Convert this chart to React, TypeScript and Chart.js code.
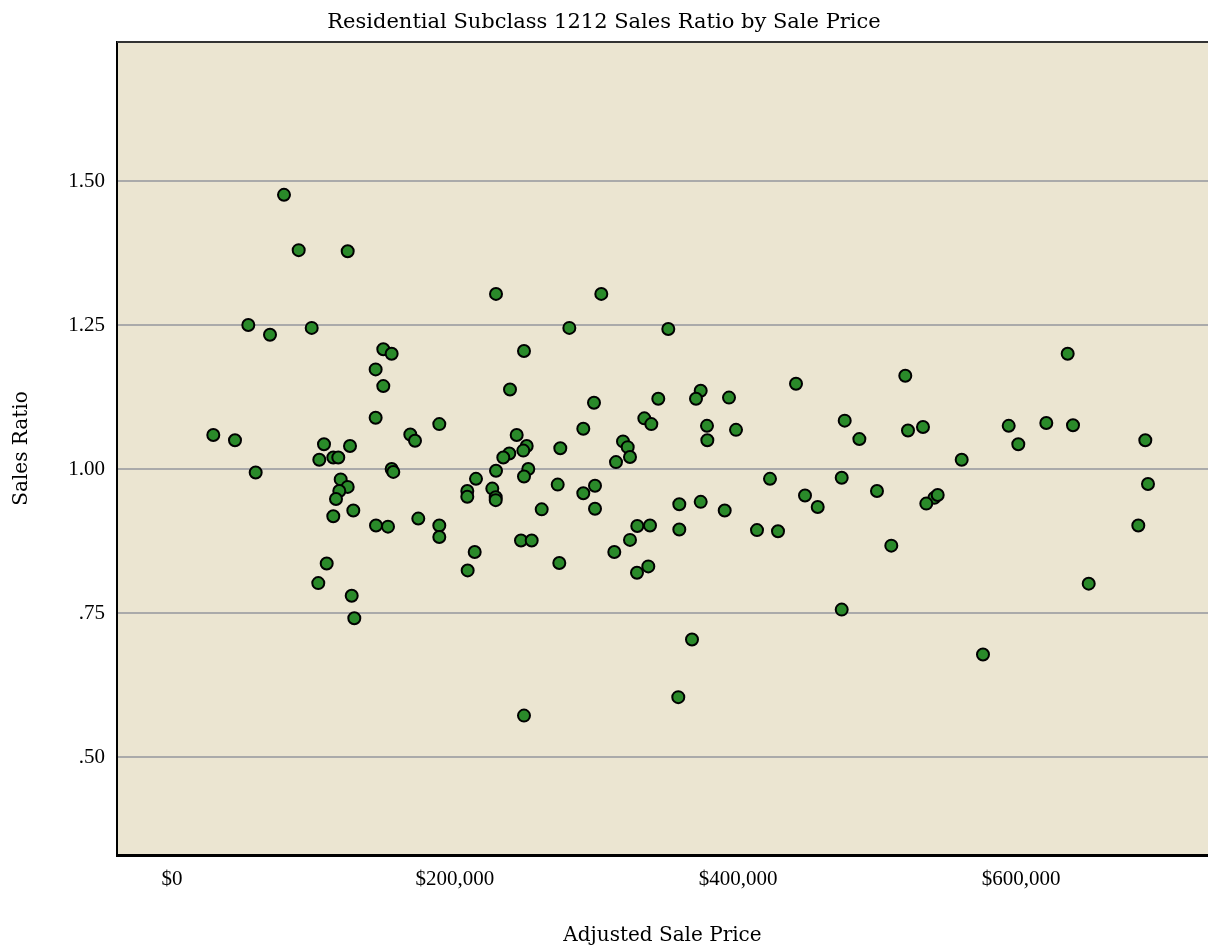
import React, { useEffect, useRef } from "react";
import { Chart, registerables } from "chart.js";

Chart.register(...registerables);

const TITLE = "Residential Subclass 1212 Sales Ratio by Sale Price";
const X_TITLE = "Adjusted Sale Price";
const Y_TITLE = "Sales Ratio";

const X_MIN = -38869;
const X_MAX = 732155;
const Y_MIN = 0.33;
const Y_MAX = 1.7413;
const X_TICKS: number[] = [0, 200000, 400000, 600000];
const Y_TICKS: number[] = [0.5, 0.75, 1.0, 1.25, 1.5];

// Adjusted sale price ($)
const salePrices: number[] = [
  79150, 89540, 124170, 53930, 69260, 98730, 149330, 155230, 143920, 149330,
  143920, 29190, 44520, 59140, 107420, 125800, 104100, 113990, 117520, 155230,
  156400, 119220, 124170, 118230, 115900, 128130, 113990, 144170, 152650, 109330,
  103380, 127000, 128840, 228980, 303390, 280800, 350740, 248760, 238870, 298230,
  343670, 373640, 370320, 393640, 440990, 168410, 171730, 188910, 290670, 333790,
  338740, 378090, 398590, 378330, 243600, 250670, 248270, 238370, 234130, 274420,
  318730, 322050, 323670, 313780, 228980, 251800, 248760, 214840, 208690, 208690,
  226360, 228770, 228770, 272580, 298940, 290670, 261270, 298940, 358520, 373640,
  390600, 422610, 447350, 174060, 188910, 188910, 328830, 337810, 358520, 413430,
  428270, 323670, 246640, 254200, 213920, 312580, 208950, 273710, 328620, 336610,
  632990, 518230, 475410, 485770, 520140, 530740, 558090, 591310, 598090, 617880,
  636750, 687850, 689750, 682900, 647850, 473290, 456330, 498230, 538730, 541130,
  533070, 508340, 367490, 357800, 248760, 473290, 573140,
];

// Sales ratio
const salesRatios: number[] = [
  1.476, 1.38, 1.378, 1.25, 1.233, 1.245, 1.208, 1.2, 1.173, 1.144,
  1.089, 1.059, 1.05, 0.994, 1.043, 1.04, 1.016, 1.02, 1.02, 1.0,
  0.995, 0.982, 0.969, 0.962, 0.948, 0.928, 0.918, 0.902, 0.9, 0.836,
  0.802, 0.78, 0.741, 1.304, 1.304, 1.245, 1.243, 1.205, 1.138, 1.115,
  1.122, 1.136, 1.122, 1.124, 1.148, 1.06, 1.049, 1.078, 1.07, 1.088,
  1.078, 1.075, 1.068, 1.05, 1.059, 1.04, 1.032, 1.027, 1.02, 1.036,
  1.048, 1.038, 1.021, 1.012, 0.997, 1.0, 0.987, 0.983, 0.962, 0.952,
  0.966, 0.951, 0.946, 0.973, 0.971, 0.958, 0.93, 0.931, 0.939, 0.943,
  0.928, 0.983, 0.954, 0.914, 0.902, 0.882, 0.901, 0.902, 0.895, 0.894,
  0.892, 0.877, 0.876, 0.876, 0.856, 0.856, 0.824, 0.837, 0.82, 0.831,
  1.2, 1.162, 1.084, 1.052, 1.067, 1.073, 1.016, 1.075, 1.043, 1.08,
  1.076, 1.05, 0.974, 0.902, 0.801, 0.985, 0.934, 0.962, 0.95, 0.955,
  0.94, 0.867, 0.704, 0.604, 0.572, 0.756, 0.678,
];

const PLOT_BG = "#ebe5d1";
const POINT_FILL = "#2a8a2a";

const plotDecor = {
  id: "plotDecor",
  beforeDraw(chart: any) {
    const { ctx, chartArea } = chart;
    ctx.save();
    ctx.fillStyle = PLOT_BG;
    ctx.fillRect(chartArea.left, chartArea.top, chartArea.right - chartArea.left, chartArea.bottom - chartArea.top);
    ctx.restore();
  },
  afterDraw(chart: any) {
    const { ctx, chartArea } = chart;
    ctx.save();
    ctx.strokeStyle = "#333333";
    ctx.lineWidth = 2;
    ctx.beginPath();
    ctx.moveTo(chartArea.left, chartArea.top);
    ctx.lineTo(chartArea.right, chartArea.top);
    ctx.stroke();
    ctx.restore();
  },
};

export default function App() {
  const canvasRef = useRef<HTMLCanvasElement | null>(null);

  useEffect(() => {
    if (!canvasRef.current) return;
    const points = salePrices.map((x, i) => ({ x, y: salesRatios[i] }));
    const tickFont = { family: "'Liberation Serif', serif", size: 21 };
    const titleFont = { family: "'DejaVu Serif', serif", size: 20 };
    const chart = new Chart(canvasRef.current, {
      type: "scatter",
      data: {
        datasets: [
          {
            data: points,
            backgroundColor: POINT_FILL,
            borderColor: "#000000",
            borderWidth: 2,
            pointRadius: 6,
            pointHoverRadius: 6,
          },
        ],
      },
      plugins: [plotDecor],
      options: {
        responsive: false,
        animation: false,
        layout: { padding: 0, autoPadding: false },
        plugins: {
          legend: { display: false },
          tooltip: { enabled: false },
          title: {
            display: true,
            text: TITLE,
            color: "#000",
            font: { family: "'DejaVu Serif', serif", size: 21, weight: "normal", lineHeight: "22px" },
            padding: { top: 12, bottom: 8 },
          },
        },
        scales: {
          x: {
            type: "linear",
            min: X_MIN,
            max: X_MAX,
            afterBuildTicks: (s: any) => {
              s.ticks = X_TICKS.map((v) => ({ value: v }));
            },
            afterFit: (s: any) => {
              s.height = 97;
              s.paddingLeft = 0;
              s.paddingRight = 0;
            },
            ticks: {
              maxRotation: 0,
              autoSkip: false,
              padding: 12,
              color: "#000",
              font: tickFont,
              callback: (v: any) => "$" + Number(v).toLocaleString("en-US"),
            },
            grid: { display: false, drawTicks: false },
            border: { display: true, color: "#000", width: 3 },
            title: {
              display: true,
              text: X_TITLE,
              color: "#000",
              font: titleFont,
              padding: { top: 0, bottom: 4 },
            },
          },
          y: {
            type: "linear",
            min: Y_MIN,
            max: Y_MAX,
            afterBuildTicks: (s: any) => {
              s.ticks = Y_TICKS.map((v) => ({ value: v }));
            },
            afterFit: (s: any) => {
              s.width = 117;
            },
            ticks: {
              autoSkip: false,
              padding: 12,
              color: "#000",
              font: tickFont,
              callback: (v: any) => {
                const s = Number(v).toFixed(2);
                return Number(v) < 1 ? s.replace(/^0/, "") : s;
              },
            },
            grid: { color: "#aaaaaa", lineWidth: 2, drawTicks: false },
            border: { display: true, color: "#000", width: 2 },
            title: {
              display: true,
              text: Y_TITLE,
              color: "#000",
              font: titleFont,
              padding: { top: 10, bottom: 0 },
            },
          },
        },
      },
    } as any);
    return () => chart.destroy();
  }, []);

  return (
    <div style={{ position: "absolute", left: 0, top: 0, width: 1208, height: 952, background: "#fff" }}>
      <canvas ref={canvasRef} width={1208} height={952} />
    </div>
  );
}
